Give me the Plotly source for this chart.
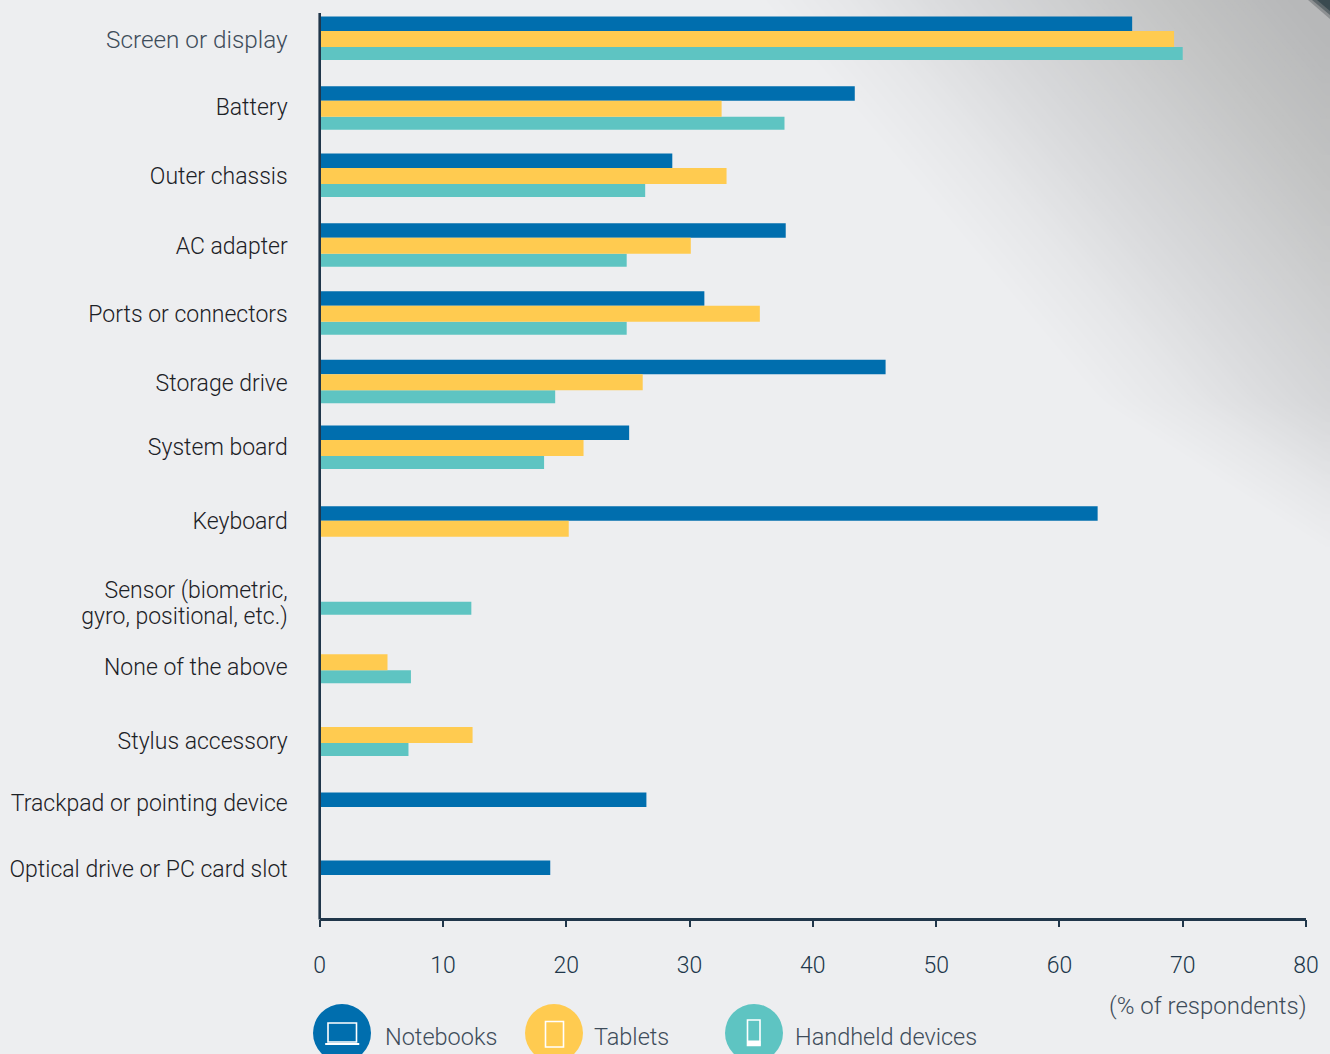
import plotly.graph_objects as go

# Survey data: share of respondents reporting a problem with each component
categories = [
    "Screen or display", "Battery", "Outer chassis", "AC adapter",
    "Ports or connectors", "Storage drive", "System board", "Keyboard",
    "Sensor (biometric,<br>gyro, positional, etc.)", "None of the above",
    "Stylus accessory", "Trackpad or pointing device",
    "Optical drive or PC card slot",
]
notebooks = [65.9, 43.4, 28.6, 37.8, 31.2, 45.9, 25.1, 63.1, None, None, None, 26.5, 18.7]
tablets = [69.3, 32.6, 33.0, 30.1, 35.7, 26.2, 21.4, 20.2, None, 5.5, 12.4, None, None]
handhelds = [70.0, 37.7, 26.4, 24.9, 24.9, 19.1, 18.2, None, 12.3, 7.4, 7.2, None, None]
x_ticks = [0, 10, 20, 30, 40, 50, 60, 70, 80]

# Rows are unevenly spaced; positions are in units of one row pitch
row_centres = [0, 1.02, 2.0, 3.02, 4.01, 5.01, 5.97, 7.15, 8.10, 9.10, 10.16, 11.33, 12.32]
label_centres = [0.015, 0.99, 2.0, 3.02, 4.01, 5.02, 5.96, 7.04, (8.04, 8.42), 9.17, 10.25, 11.15, 12.12]

W, H = 1330, 1054
ROW_PX = 68.5
ROW0_PX = 39
TOP_PX, BOTTOM_PX = 13, 917.5
ZERO_PX = 319.7
BG = "#edeef0"
BLUE, YELLOW, TEAL = "#006eae", "#ffcb50", "#5ec4c2"
INK = "#20364a"
FONT = "Roboto"


def px(x, y):
    """Canvas pixels to paper coordinates (margins are zero)."""
    return x / W, 1 - y / H


def path(points):
    parts = []
    for i, (x, y) in enumerate(points):
        u, v = px(x, y)
        parts.append(f"{'M' if i == 0 else 'L'}{u:.5f},{v:.5f}")
    return " ".join(parts) + " Z"


def band_outline(d):
    """Region above-right of one diagonal shading contour."""
    pts = []
    for x in range(int(d), W + 1, 10):
        y = (x - d) / 0.84
        if y > 400:
            y = 400 + (y - 400) * 0.55
        pts.append((x, y))
    pts.append((W, pts[-1][1]))
    pts.append((W, 0))
    return pts


def blend(stops, d):
    for (d0, c0), (d1, c1) in zip(stops, stops[1:]):
        if d0 <= d <= d1:
            t = (d - d0) / (d1 - d0)
            return "rgb({},{},{})".format(*(round(a + (b - a) * t) for a, b in zip(c0, c1)))
    return "rgb({},{},{})".format(*stops[-1][1])


# Soft diagonal shading in the top-right corner, as narrow stepped bands
shade_stops = [
    (760, (237, 238, 240)), (850, (229, 230, 232)), (960, (216, 217, 219)),
    (1060, (206, 207, 208)), (1170, (194, 195, 195)), (1300, (182, 183, 184)),
]
shapes = []
for d in range(760, 1300, 6):
    shapes.append(dict(type="path", xref="paper", yref="paper", layer="below",
                       path=path(band_outline(d)), fillcolor=blend(shade_stops, d), line_width=0))
for start, end, colour in [(1308, 19, "#8d9092"), (1312, 15, "#5f686c"), (1317, 11, "#3a4a50")]:
    shapes.append(dict(type="path", xref="paper", yref="paper", layer="below",
                       path=path([(start, 0), (W, end), (W, 0)]), fillcolor=colour, line_width=0))

# Legend badges with device glyphs
for cx, colour in [(342, BLUE), (554, YELLOW), (754, TEAL)]:
    x0, y0 = px(cx - 29, 1004)
    x1, y1 = px(cx + 29, 1062)
    shapes.append(dict(type="circle", xref="paper", yref="paper", x0=x0, y0=y0, x1=x1, y1=y1,
                       fillcolor=colour, line_width=0))


def glyph_rect(left, top, right, bottom, width=1.6, fill=None):
    x0, y0 = px(left, top)
    x1, y1 = px(right, bottom)
    return dict(type="rect", xref="paper", yref="paper", x0=x0, y0=y0, x1=x1, y1=y1,
                line=dict(color="white", width=width), fillcolor=fill or "rgba(0,0,0,0)")


shapes += [
    glyph_rect(328, 1023, 356.5, 1042),
    glyph_rect(325.5, 1043.5, 359, 1044.5, width=1, fill="white"),
    glyph_rect(545.5, 1021.5, 563.5, 1047),
    glyph_rect(747.5, 1020, 760, 1045.5),
    glyph_rect(747.5, 1041, 760, 1045.5, width=1, fill="white"),
]
# Vertical axis rule, centred on the zero line and drawn over the bars
shapes.append(dict(type="line", xref="paper", yref="paper", x0=ZERO_PX / W, x1=ZERO_PX / W,
                   y0=1 - (BOTTOM_PX + 2) / H, y1=1 - TOP_PX / H,
                   line=dict(color=INK, width=2.6)))

fig = go.Figure()
for name, values, colour, top, height in [
    ("Handheld devices", handhelds, TEAL, 8, 13),
    ("Notebooks", notebooks, BLUE, -22.5, 14.5),
    ("Tablets", tablets, YELLOW, -8, 16),
]:
    fig.add_trace(go.Bar(
        name=name, orientation="h", x=values, y=row_centres,
        width=height / ROW_PX, offset=top / ROW_PX,
        marker=dict(color=colour, line_width=0), showlegend=False,
    ))


def note(text, x, y, size, anchor="left", colour="#3e4c5a"):
    u, v = px(x, y)
    return dict(text=text, x=u, y=v, xref="paper", yref="paper", showarrow=False,
                xanchor=anchor, yanchor="middle",
                font=dict(family=FONT, size=size, color=colour, weight=300))


# A two-line category gets one tick per line so the leading stays tight
tick_vals, tick_text = [], []
for label, centre in zip(categories, label_centres):
    lines = label.split("<br>")
    centres = centre if isinstance(centre, tuple) else (centre,)
    tick_vals.extend(centres)
    tick_text.extend(lines)
tick_text[0] = f'<span style="color:#3e4c5a;font-size:24.3px">{tick_text[0]}</span>'

fig.update_layout(
    width=W, height=H, margin=dict(l=0, r=0, t=0, b=0, autoexpand=False),
    paper_bgcolor=BG, plot_bgcolor="rgba(0,0,0,0)",
    barmode="overlay", shapes=shapes,
    font=dict(family=FONT, color=INK),
    xaxis=dict(
        domain=[ZERO_PX / W, 1306 / W], range=[0, 80], tickvals=x_ticks,
        showgrid=False, zeroline=False, showline=True, linecolor=INK, linewidth=2.6,
        ticks="outside", ticklen=6.5, tickwidth=2, tickcolor=INK,
        ticklabelstandoff=19, tickfont=dict(family=FONT, size=23, color=INK, weight=300),
    ),
    yaxis=dict(
        domain=[1 - BOTTOM_PX / H, 1 - TOP_PX / H],
        range=[(BOTTOM_PX - ROW0_PX) / ROW_PX, (TOP_PX - ROW0_PX) / ROW_PX],
        tickmode="array", tickvals=tick_vals, ticktext=tick_text,
        showgrid=False, zeroline=False, showline=False,
        ticks="", ticklabelstandoff=31,
        tickfont=dict(family=FONT, size=23, color="#1c2126", weight=300),
    ),
    annotations=[
        note("Notebooks", 383, 1037, 23.5),
        note("Tablets", 592, 1037, 23.5),
        note("Handheld devices", 793, 1037, 23.5),
        note("(% of respondents)", 1309, 1006, 24, anchor="right"),
    ],
)

fig.write_html("out.html")
